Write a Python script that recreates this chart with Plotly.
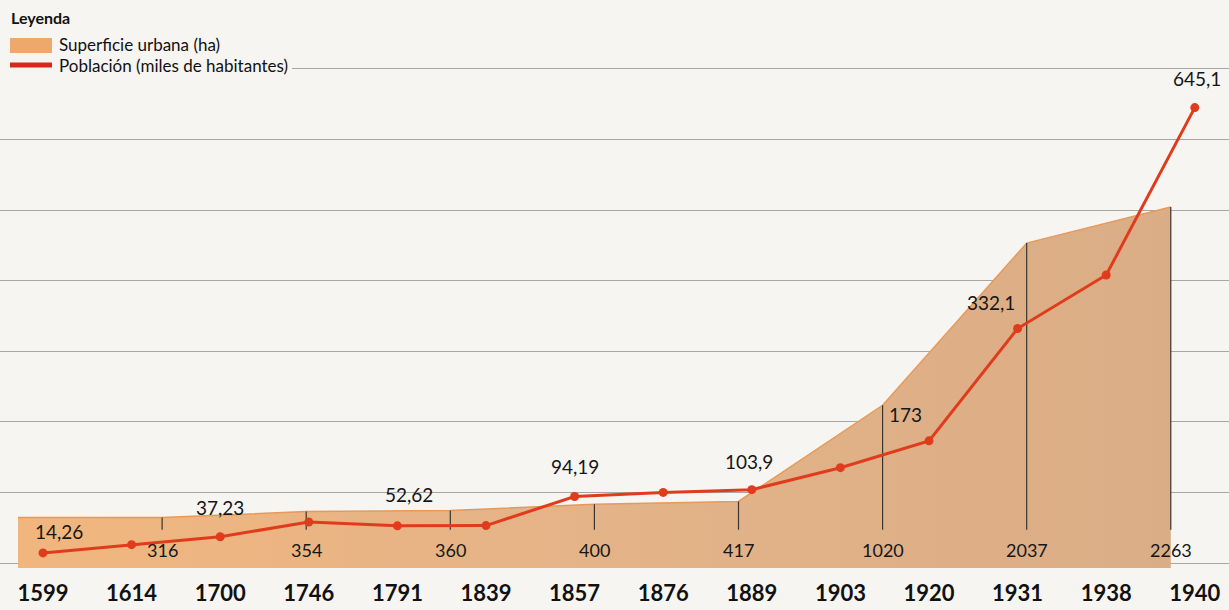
import plotly.graph_objects as go

# ---- data ----
years = ["1599", "1614", "1700", "1746", "1791", "1839", "1857",
         "1876", "1889", "1903", "1920", "1931", "1938", "1940"]
poblacion = [14.26, 26, 37.23, 58, 52.62, 53, 94.19,
             100, 103.9, 135, 173, 332.1, 408, 645.1]
# indices of population points that carry a value label
pob_labeled = [0, 2, 4, 6, 8, 10, 11, 13]

superficie = [316, 316, 354, 360, 400, 417, 1020, 2037, 2263]
# indices of surface points that carry a value label and a drop line
sup_labeled = [1, 2, 3, 4, 5, 6, 7, 8]

legend_title = "Leyenda"
legend_names = ["Superficie urbana (ha)", "Población (miles de habitantes)"]

# ---- styles ----
FONT = "Lato"
RED = "#e03c1c"
TXT = "#161616"
BG = "#f6f5f2"
label_offsets = {0: (16, 21), 2: (0, 29), 4: (12, 31), 6: (0, 30),
                 8: (-3, 28), 10: (-24, 26), 11: (-27, 26), 13: (2, 29)}
PLOT_W, PLOT_H = 1229, 575


def px(xp, yp):
    """pixel position inside the plot area -> paper coords"""
    return xp / PLOT_W, 1 - yp / PLOT_H


sup_x = list(range(len(superficie)))
pob_x = list(range(len(years)))

fig = go.Figure()

# urban surface area (main axes)
fig.add_trace(go.Scatter(
    x=sup_x, y=superficie, xaxis="x", yaxis="y",
    mode="lines", fill="tozeroy",
    line=dict(color="#e7995a", width=1.5),
    fillgradient=dict(type="horizontal",
                      colorscale=[[0, "#f1b67e"], [0.5, "#e4b388"], [1, "#dbad86"]]),
    showlegend=False, hoverinfo="skip"))

# drop lines for the surface values
dx, dy = [], []
for i in sup_labeled:
    dx += [sup_x[i], sup_x[i], None]
    dy += [superficie[i], 240, None]
fig.add_trace(go.Scatter(x=dx, y=dy, xaxis="x", yaxis="y", mode="lines",
                         line=dict(color="#3a3530", width=1.2),
                         showlegend=False, hoverinfo="skip"))

# population line (overlay axes)
fig.add_trace(go.Scatter(
    x=pob_x, y=poblacion, xaxis="x2", yaxis="y2",
    mode="lines+markers",
    line=dict(color=RED, width=3),
    marker=dict(color=RED, size=9),
    showlegend=False))

annotations = []
for i in pob_labeled:
    xs, ys = label_offsets[i]
    annotations.append(dict(
        x=pob_x[i], y=poblacion[i], xref="x2", yref="y2",
        text=f"{poblacion[i]:g}".replace(".", ","), showarrow=False,
        xshift=xs, yshift=ys, font=dict(family=FONT, size=19, color=TXT)))
for i in sup_labeled:
    annotations.append(dict(
        x=sup_x[i], y=115, xref="x", yref="y",
        text=f"{superficie[i]}", showarrow=False,
        font=dict(family=FONT, size=18, color=TXT)))

# manual legend
shapes = []
x0, y0 = px(0, 0)
x1, y1 = px(292, 80)
shapes.append(dict(type="rect", xref="paper", yref="paper", x0=x0, y0=y1, x1=x1, y1=y0,
                   fillcolor=BG, line=dict(width=0), layer="above"))
sx0, sy0 = px(10, 38)
sx1, sy1 = px(52, 53)
shapes.append(dict(type="rect", xref="paper", yref="paper", x0=sx0, y0=sy1, x1=sx1, y1=sy0,
                   fillcolor="#eea86c", line=dict(width=0), layer="above"))
lx0, ly = px(10, 65)
lx1, _ = px(52, 65)
shapes.append(dict(type="line", xref="paper", yref="paper", x0=lx0, y0=ly, x1=lx1, y1=ly,
                   line=dict(color="#d8281a", width=5), layer="above"))
tx, ty = px(9, 18)
annotations.append(dict(x=tx, y=ty, xref="paper", yref="paper", xanchor="left", yanchor="middle",
                        text=f"<b>{legend_title}</b>", showarrow=False,
                        font=dict(family=FONT, size=16, color="#111")))
for name, yp in zip(legend_names, [45, 65]):
    ax, ay = px(57, yp)
    annotations.append(dict(x=ax, y=ay, xref="paper", yref="paper", xanchor="left",
                            yanchor="middle", text=name, showarrow=False,
                            font=dict(family=FONT, size=17, color="#111")))

fig.update_layout(
    width=1229, height=610,
    margin=dict(l=0, r=0, t=0, b=35),
    paper_bgcolor=BG, plot_bgcolor=BG,
    font=dict(family=FONT, color=TXT),
    showlegend=False,
    xaxis=dict(range=[-0.125, 8.404], visible=False, fixedrange=True),
    yaxis=dict(range=[-43.9, 3561], visible=False, fixedrange=True),
    xaxis2=dict(overlaying="x", side="bottom", range=[-0.4853, 13.386],
                tickvals=pob_x, ticktext=years, showgrid=False, zeroline=False,
                ticks="", tickfont=dict(family=FONT, size=22, color="#111", weight="bold"),
                ticklabelstandoff=3),
    yaxis2=dict(overlaying="y", range=[-17.0, 797.5], tick0=0, dtick=100,
                showgrid=True, gridcolor="#a9a7a3", gridwidth=1,
                zeroline=True, zerolinecolor="#a9a7a3", zerolinewidth=1,
                showticklabels=False, ticks=""),
    annotations=annotations,
    shapes=shapes,
)

fig.write_html("out.html", config={"displayModeBar": False},
               post_script="document.body.style.margin='0';")
